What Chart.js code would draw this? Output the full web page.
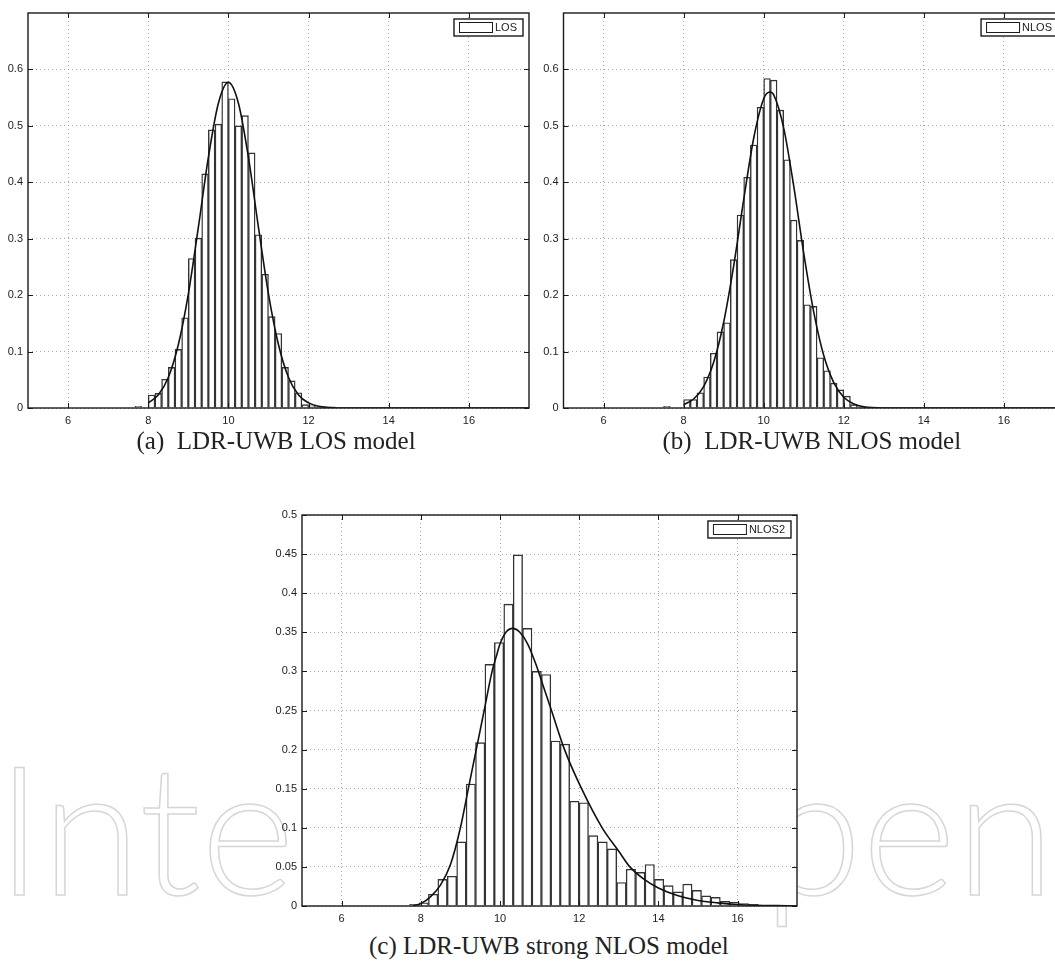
<!DOCTYPE html>
<html>
<head>
<meta charset="utf-8">
<script src="https://cdn.jsdelivr.net/npm/chart.js@4.4.1/dist/chart.umd.min.js"></script>
<style>
html, body { margin: 0; padding: 0; background: #fff; }
body { position: relative; width: 1055px; height: 965px; overflow: hidden; }
.panel { position: absolute; }
.cap { position: absolute; font-family: "Liberation Serif", "DejaVu Serif", serif; font-size: 25px; color: #222; white-space: pre; }
#wm { position: absolute; left: -4px; top: 735px; font-family: Lato, sans-serif; font-weight: 300; font-size: 180px; line-height: 1; color: transparent; -webkit-text-stroke: 1.5px #d6d6d6; white-space: nowrap; }
#wm span { letter-spacing: 48px; }
</style>
</head>
<body>
<div id="wm">Inte<span>chO</span>pen</div>
<div class="panel" style="left:0px;top:0px"><canvas id="chartA" width="535" height="432"></canvas></div>
<div class="panel" style="left:535px;top:0px"><canvas id="chartB" width="535" height="432"></canvas></div>
<div class="panel" style="left:272px;top:500px"><canvas id="chartC" width="531" height="432"></canvas></div>
<div class="cap" id="capA">(a)  LDR-UWB LOS model</div>
<div class="cap" id="capB">(b)  LDR-UWB NLOS model</div>
<div class="cap" id="capC">(c) LDR-UWB strong NLOS model</div>
<script>
// histogram bin centres and densities
var losBins = [7.75, 8.083, 8.25, 8.417, 8.583, 8.75, 8.917, 9.083, 9.25, 9.417, 9.583, 9.75, 9.917,
  10.083, 10.25, 10.417, 10.583, 10.75, 10.917, 11.083, 11.25, 11.417, 11.583, 11.75, 11.917, 12.083, 12.25, 12.417, 12.583];
var losDensity = [0.003, 0.023, 0.026, 0.051, 0.072, 0.104, 0.160, 0.265, 0.301, 0.415, 0.493, 0.503, 0.578,
  0.548, 0.500, 0.518, 0.452, 0.307, 0.237, 0.162, 0.132, 0.072, 0.048, 0.027, 0.006, 0.004, 0.002, 0.001, 0.002];
var losFitX = [8.0, 8.25, 8.5, 8.75, 9.0, 9.25, 9.5, 9.75, 10.0, 10.25, 10.5, 10.75, 11.0, 11.25, 11.5, 11.75, 12.0, 12.25, 12.5, 13.0, 14.0, 15.0, 16.0, 17.5];
var losFitY = [0.009, 0.023, 0.054, 0.112, 0.202, 0.320, 0.444, 0.540, 0.577, 0.540, 0.444, 0.320, 0.202, 0.112, 0.054, 0.023, 0.009, 0.003, 0.001, 0, 0, 0, 0, 0];

var nlosBins = [7.583, 8.083, 8.25, 8.417, 8.583, 8.75, 8.917, 9.083, 9.25, 9.417, 9.583, 9.75, 9.917,
  10.083, 10.25, 10.417, 10.583, 10.75, 10.917, 11.083, 11.25, 11.417, 11.583, 11.75, 11.917, 12.083, 12.25, 12.417];
var nlosDensity = [0.003, 0.015, 0.015, 0.027, 0.055, 0.097, 0.135, 0.151, 0.263, 0.342, 0.409, 0.466, 0.533,
  0.584, 0.581, 0.528, 0.440, 0.333, 0.297, 0.183, 0.180, 0.089, 0.066, 0.044, 0.032, 0.021, 0.006, 0.002];
var nlosFitX = [8.0, 8.25, 8.5, 8.75, 9.0, 9.25, 9.5, 9.75, 10.0, 10.15, 10.25, 10.5, 10.75, 11.0, 11.25, 11.5, 11.75, 12.0, 12.25, 12.5, 13.0, 14.0, 15.0, 16.0, 17.5];
var nlosFitY = [0.006, 0.016, 0.038, 0.081, 0.152, 0.252, 0.369, 0.478, 0.548, 0.560, 0.555, 0.496, 0.393, 0.274, 0.170, 0.093, 0.045, 0.019, 0.007, 0.002, 0, 0, 0, 0, 0];

var nlos2Bins = [7.836, 8.074, 8.311, 8.549, 8.787, 9.025, 9.263, 9.500, 9.738, 9.976, 10.214, 10.452, 10.689,
  10.927, 11.165, 11.403, 11.640, 11.878, 12.116, 12.354, 12.592, 12.829, 13.067, 13.305, 13.543, 13.781,
  14.018, 14.256, 14.494, 14.732, 14.970, 15.207, 15.445, 15.683, 15.921, 16.158, 16.396, 16.634, 16.872];
var nlos2Density = [0.002, 0.004, 0.015, 0.034, 0.038, 0.082, 0.156, 0.209, 0.309, 0.337, 0.386, 0.449, 0.355,
  0.300, 0.296, 0.211, 0.207, 0.134, 0.132, 0.090, 0.082, 0.073, 0.030, 0.047, 0.043, 0.053,
  0.034, 0.026, 0.018, 0.028, 0.020, 0.013, 0.011, 0.006, 0.005, 0.003, 0.002, 0.001, 0.001];
var nlos2FitX = [7.8, 8.0, 8.25, 8.5, 8.75, 9.0, 9.2, 9.4, 9.6, 9.8, 9.9, 10.0, 10.15, 10.32, 10.5, 10.7, 10.9, 11.1, 11.3,
  11.63, 12.06, 12.58, 13.0, 13.28, 13.67, 14.0, 14.5, 15.0, 15.5, 16.0, 16.5, 17.0, 17.5];
var nlos2FitY = [0.0, 0.003, 0.012, 0.027, 0.053, 0.100, 0.150, 0.200, 0.250, 0.300, 0.318, 0.335, 0.350, 0.355, 0.350, 0.335, 0.310, 0.280, 0.250,
  0.200, 0.150, 0.100, 0.070, 0.050, 0.033, 0.023, 0.013, 0.007, 0.004, 0.002, 0.001, 0.0005, 0.0];

var xTicks = [6, 8, 10, 12, 14, 16];
var yTicksAB = [0, 0.1, 0.2, 0.3, 0.4, 0.5, 0.6];
var yTicksC = [0, 0.05, 0.1, 0.15, 0.2, 0.25, 0.3, 0.35, 0.4, 0.45, 0.5];

var tickFont = { family: "'Liberation Sans', Arial, sans-serif", size: 11 };

// white axes, box frame, inward ticks and a framed legend like matlab
var matlabAxes = {
  id: 'matlabAxes',
  beforeDraw: function(chart){
    var a = chart.chartArea, ctx = chart.ctx;
    ctx.save();
    ctx.fillStyle = '#fff';
    ctx.fillRect(a.left, a.top, a.right - a.left, a.bottom - a.top);
    ctx.restore();
  },
  afterDraw: function(chart){
    var a = chart.chartArea, ctx = chart.ctx;
    var xs = chart.scales.x, ys = chart.scales.y;
    ctx.save();
    ctx.strokeStyle = '#1a1a1a';
    ctx.lineWidth = 1;
    ctx.beginPath();
    xs.ticks.forEach(function(t){
      var p = Math.round(xs.getPixelForValue(t.value)) + 0.5;
      ctx.moveTo(p, a.bottom); ctx.lineTo(p, a.bottom - 5);
      ctx.moveTo(p, a.top); ctx.lineTo(p, a.top + 5);
    });
    ys.ticks.forEach(function(t){
      var p = Math.round(ys.getPixelForValue(t.value)) + 0.5;
      ctx.moveTo(a.left, p); ctx.lineTo(a.left + 5, p);
      ctx.moveTo(a.right, p); ctx.lineTo(a.right - 5, p);
    });
    ctx.stroke();
    ctx.lineWidth = 1.4;
    ctx.strokeRect(a.left, a.top, a.right - a.left, a.bottom - a.top);

    // legend box, top right inside the axes
    var label = chart.data.datasets[1].label;
    ctx.font = "11px 'Liberation Sans', Arial, sans-serif";
    var tw = ctx.measureText(label).width;
    var bw = 5 + 33 + 3 + tw + 6, bh = 17;
    var bx = a.right - 6 - bw, by = a.top + 6;
    ctx.fillStyle = '#fff';
    ctx.fillRect(bx, by, bw, bh);
    ctx.lineWidth = 1.4;
    ctx.strokeRect(bx, by, bw, bh);
    ctx.lineWidth = 1;
    ctx.strokeRect(bx + 5.5, by + 3.5, 33, 10);
    ctx.fillStyle = '#222';
    ctx.textBaseline = 'middle';
    ctx.fillText(label, bx + 5 + 33 + 3, by + bh / 2 + 0.5);
    ctx.restore();
  }
};

function xy(xs, ys){
  return xs.map(function(x, i){ return { x: x, y: ys[i] }; });
}

function makePanel(id, label, bins, density, fitX, fitY, opt){
  var ctx = document.getElementById(id);
  return new Chart(ctx, {
    type: 'bar',
    data: {
      datasets: [{
        type: 'line',
        label: 'fit',
        data: xy(fitX, fitY),
        borderColor: '#111',
        borderWidth: 1.6,
        pointRadius: 0,
        cubicInterpolationMode: 'monotone',
        order: 0
      }, {
        label: label,
        data: xy(bins, density),
        backgroundColor: '#fff',
        borderColor: '#333',
        borderWidth: 1.4,
        barPercentage: 1,
        categoryPercentage: 1,
        order: 1
      }]
    },
    options: {
      responsive: false,
      animation: false,
      layout: { padding: { top: opt.padTop, right: opt.padRight, left: 0, bottom: 0 } },
      plugins: { legend: { display: false }, tooltip: { enabled: false } },
      scales: {
        x: {
          type: 'linear',
          offset: false,
          min: 5, max: 17.5,
          afterBuildTicks: function(s){
            s.ticks = xTicks.map(function(v){ return { value: v }; });
          },
          afterFit: function(s){ s.height = opt.xHeight; },
          grid: { color: '#a8a8a8', drawTicks: false, offset: false },
          border: { display: false, dash: [1, 3] },
          ticks: { font: tickFont, color: '#222', padding: 6, maxRotation: 0 }
        },
        y: {
          min: 0, max: opt.yMax,
          afterBuildTicks: function(s){
            s.ticks = opt.yTicks.map(function(v){ return { value: v }; });
          },
          afterFit: function(s){ s.width = opt.yWidth; },
          grid: { color: '#a8a8a8', drawTicks: false },
          border: { display: false, dash: [1, 3] },
          ticks: {
            font: tickFont, color: '#222', padding: 5,
            callback: function(v){ return String(+v.toFixed(2)); }
          }
        }
      }
    },
    plugins: [matlabAxes]
  });
}

makePanel('chartA', 'LOS', losBins, losDensity, losFitX, losFitY,
  { yMax: 0.7, yTicks: yTicksAB, padTop: 13, padRight: 6, xHeight: 24, yWidth: 28 });
makePanel('chartB', 'NLOS', nlosBins, nlosDensity, nlosFitX, nlosFitY,
  { yMax: 0.7, yTicks: yTicksAB, padTop: 13, padRight: 6, xHeight: 24, yWidth: 28.5 });
makePanel('chartC', 'NLOS2', nlos2Bins, nlos2Density, nlos2FitX, nlos2FitY,
  { yMax: 0.5, yTicks: yTicksC, padTop: 15, padRight: 6, xHeight: 26, yWidth: 30 });

// captions centred under each panel
function placeCap(id, cx, cy){
  var el = document.getElementById(id);
  el.style.left = (cx - el.offsetWidth / 2) + 'px';
  el.style.top = (cy - el.offsetHeight / 2) + 'px';
}
placeCap('capA', 276, 441);
placeCap('capB', 812, 441);
placeCap('capC', 549, 946);
</script>
</body>
</html>
